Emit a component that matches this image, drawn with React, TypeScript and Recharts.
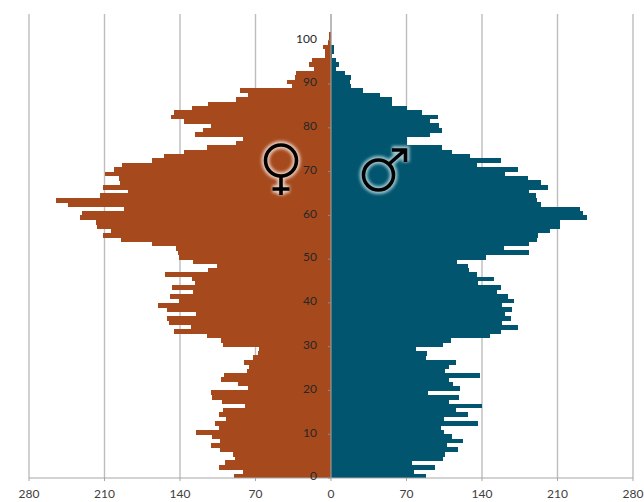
import { BarChart, Bar, XAxis, YAxis, CartesianGrid, ReferenceLine, ReferenceDot } from 'recharts';

// index = age
const females = [
  90, 82, 104, 98, 89, 91, 103, 111, 103, 110,
  125, 104, 108, 97, 104, 100, 80, 101, 110, 111,
  77, 86, 102, 99, 78, 76, 81, 72, 68, 67,
  100, 102, 115, 146, 130, 150, 152, 125, 152, 160,
  141, 149, 128, 147, 126, 129, 154, 114, 106, 128,
  141, 142, 144, 166, 195, 211, 204, 217, 218, 233,
  231, 192, 244, 255, 214, 188, 211, 196, 197, 210,
  201, 194, 166, 155, 136, 115, 88, 82, 126, 119,
  111, 136, 148, 146, 129, 114, 88, 77, 84, 36,
  41, 33, 32, 16, 20, 18, 6, 6, 7, 3,
  2, 2, 0, 0, 0, 0,
];
const males = [
  88, 77, 96, 75, 104, 106, 118, 108, 122, 112,
  105, 102, 136, 105, 127, 116, 140, 109, 119, 90,
  120, 113, 109, 138, 106, 109, 116, 88, 89, 79,
  104, 111, 147, 158, 173, 159, 167, 161, 168, 159,
  170, 164, 154, 158, 136, 151, 135, 128, 127, 117,
  144, 184, 160, 184, 191, 192, 203, 212, 212, 237,
  234, 231, 195, 191, 190, 184, 201, 195, 183, 161,
  173, 135, 158, 129, 112, 103, 70, 70, 92, 103,
  100, 92, 99, 84, 70, 57, 57, 45, 30, 19,
  18, 19, 13, 5, 7, 5, 1, 3, 3, 0,
  0, 0, 0, 0, 0, 0,
];
const ageLabels = [0, 10, 20, 30, 40, 50, 60, 70, 80, 90, 100];
const populationTicks = [-280, -210, -140, -70, 0, 70, 140, 210, 280];

const rows = females.map((f, age) => ({ age, female: -f, male: males[age] }));

const font = 'Lato, "Open Sans", sans-serif';

// recharts floors the band height, so rows would leave seams without this
function PopulationBar(props: any) {
  const { x, y, width, height, background, fill } = props;
  const rowHeight = background && background.height ? background.height : height;
  return (
    <rect
      x={Math.min(x, x + width)}
      y={y}
      width={Math.abs(width)}
      height={Math.max(rowHeight, 4.4) + 0.4}
      fill={fill}
      shapeRendering="crispEdges"
    />
  );
}

function AgeLabel(props: any) {
  const { cx, cy, age } = props;
  return (
    <g>
      <line x1={cx - 3} x2={cx} y1={cy + 2.2} y2={cy + 2.2} stroke="#8c8c8c" />
      <text x={cx - 14} y={cy} textAnchor="end" dominantBaseline="central" fontSize={12} fontFamily={font} fill="#262626">
        {age}
      </text>
    </g>
  );
}

function Symbols() {
  const glow = { fill: 'none', strokeWidth: 8, filter: 'url(#soft)' };
  const ink = { fill: 'none', stroke: '#000', strokeWidth: 3.6 };
  const venus = (
    <>
      <circle cx={281} cy={160.5} r={15.5} />
      <path d="M281 176V195M272.5 189H289.5" />
    </>
  );
  const mars = (
    <>
      <circle cx={378.5} cy={175} r={15} />
      <path d="M389 164L405 150M392 150H405.5V162" />
    </>
  );
  return (
    <svg width={644} height={502} style={{ position: 'absolute', left: 0, top: 0, pointerEvents: 'none' }}>
      <defs>
        <filter id="soft" x="-30%" y="-30%" width="160%" height="160%">
          <feGaussianBlur stdDeviation="1.5" />
        </filter>
      </defs>
      <g {...glow} stroke="#e8c8b8">{venus}</g>
      <g {...glow} stroke="#9cc4cf">{mars}</g>
      <g {...ink}>{venus}</g>
      <g {...ink}>{mars}</g>
    </svg>
  );
}

export default function App() {
  return (
    <div style={{ position: 'absolute', left: 0, top: 0, width: 644, height: 502, background: '#fff' }}>
      <BarChart
        width={644}
        height={502}
        data={rows}
        layout="vertical"
        stackOffset="sign"
        barCategoryGap={0}
        margin={{ top: 14, right: 11, bottom: 0, left: 29 }}
      >
        <CartesianGrid horizontal={false} stroke="#bdbdbd" strokeWidth={1.4} />
        <XAxis
          type="number"
          domain={[-280, 280]}
          ticks={populationTicks}
          tickFormatter={(v: number) => String(Math.abs(v))}
          height={24}
          tickSize={3}
          tickMargin={8}
          interval={0}
          stroke="#a6a6a6"
          tick={{ fill: '#404040', fontSize: 12, fontFamily: font }}
        />
        <YAxis type="category" dataKey="age" reversed hide />
        <Bar dataKey="female" stackId="pop" fill="#a64a1e" shape={PopulationBar} isAnimationActive={false} />
        <Bar dataKey="male" stackId="pop" fill="#02556e" shape={PopulationBar} isAnimationActive={false} />
        <ReferenceLine x={0} stroke="#a6a6a6" />
        {ageLabels.map((age) => (
          <ReferenceDot key={age} x={0} y={age} r={0} shape={(p: any) => <AgeLabel {...p} age={age} />} />
        ))}
      </BarChart>
      <Symbols />
    </div>
  );
}
